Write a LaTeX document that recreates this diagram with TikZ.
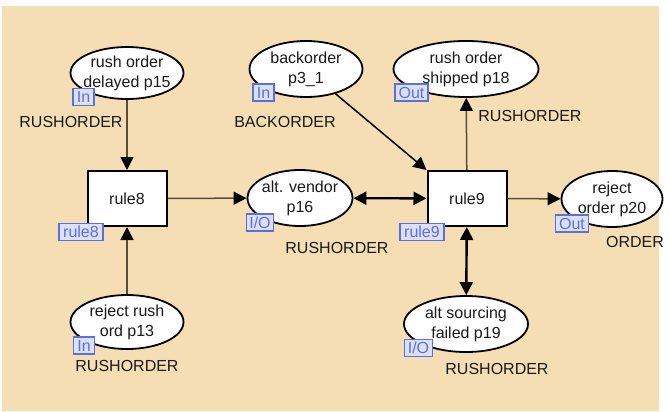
\documentclass[tikz,border=0pt]{standalone}
\usepackage{fontspec}
\setmainfont{Liberation Sans}
\usetikzlibrary{shapes.geometric,arrows.meta}
\definecolor{bgwheat}{HTML}{F5DEB3}
\definecolor{tagfill}{HTML}{DCE0FA}
\definecolor{tagblue}{HTML}{5B6FE0}
\definecolor{arcbrown}{HTML}{5A4C3A}
\definecolor{txt}{HTML}{1A1A1A}
\tikzset{
  place/.style={draw=black, line width=1.8pt, fill=white, ellipse, inner sep=0pt},
  trans/.style={draw=black, line width=2pt, fill=white, rectangle, inner sep=0pt,
                minimum width=79, minimum height=55, font=\fontsize{16}{19}\selectfont, text=txt},
  tag/.style={draw=tagblue, line width=1.4pt, fill=tagfill, text=tagblue, inner sep=0pt,
              minimum height=17, font=\fontsize{16}{17}\selectfont},
  lbl/.style={text=txt, inner sep=0pt, font=\fontsize{16}{19}\selectfont},
  plabel/.style={align=center, text=txt, inner sep=0pt, font=\fontsize{16}{20}\selectfont},
  arc/.style={draw=arcbrown, line width=1.5pt, -{Triangle[length=13pt,width=13pt,color=black]}},
  biarc/.style={draw=black, line width=2.4pt, {Triangle[length=13pt,width=13pt]}-{Triangle[length=13pt,width=13pt]}},
}
\begin{document}
\begin{tikzpicture}[x=1pt,y=-1pt]
\useasboundingbox (0,0) rectangle (669,412);
\fill[white] (0,0) rectangle (669,412);
\fill[bgwheat] (2,6) rectangle (659,411);

% places
\node[place, minimum width=113, minimum height=52,
  label={[plabel]center:{rush order\\delayed p15}}] (p15) at (127,73) {};
\node[place, minimum width=113, minimum height=54,
  label={[plabel]center:{reject rush\\ord p13}}] (p13) at (127,322) {};
\node[place, minimum width=113, minimum height=56,
  label={[plabel]center:{backorder\\p3\_1}}] (p31) at (306,69) {};
\node[place, minimum width=145, minimum height=56,
  label={[plabel]center:{rush order\\shipped p18}}] (p18) at (466,69) {};
\node[place, minimum width=105, minimum height=56,
  label={[plabel]center:{alt. vendor\\p16}}] (p16) at (300,198) {};
\node[place, minimum width=101, minimum height=56,
  label={[plabel]center:{reject\\order p20}}] (p20) at (612,199) {};
\node[place, minimum width=124, minimum height=56,
  label={[plabel]center:{alt sourcing\\failed p19}}] (p19) at (466,324) {};

% transitions
\node[trans] (r8) at (127,198.5) {rule8};
\node[trans] (r9) at (467,198.5) {rule9};

% arcs
\draw[arc] (p15) -- (r8);
\draw[arc] (p13) -- (r8);
\draw[arc] (r8) -- (p16);
\draw[biarc] (p16) -- (r9);
\draw[arc, draw=black] (p31) -- (r9.north west);
\draw[arc] (r9) -- (p18);
\draw[arc] (r9) -- (p20);
\draw[biarc] (r9) -- (p19);

% tags
\node[tag, minimum width=21] (t15) at (83.5,97) {In};
\node[tag, minimum width=21] (t13) at (84,345.5) {In};
\node[tag, minimum width=21] (t31) at (263.5,92.5) {In};
\node[tag, minimum width=33] (t18) at (411.5,92.5) {Out};
\node[tag, minimum width=27] (t16) at (260,222.5) {I/O};
\node[tag, minimum width=33] (t20) at (572,223.5) {Out};
\node[tag, minimum width=28] (t19) at (418.5,348) {I/O};
\node[tag, minimum width=44] (t8) at (81,232) {rule8};
\node[tag, minimum width=44] (t9) at (422,232) {rule9};

% colour set labels
\node[lbl] (c15) at (71,122) {RUSHORDER};
\node[lbl] (c13) at (127,366) {RUSHORDER};
\node[lbl] (c31) at (285,122) {BACKORDER};
\node[lbl] (c18) at (530,116) {RUSHORDER};
\node[lbl] (c16) at (337,248) {RUSHORDER};
\node[lbl] (c20) at (635,242) {ORDER};
\node[lbl] (c19) at (497,369) {RUSHORDER};
\end{tikzpicture}
\end{document}
